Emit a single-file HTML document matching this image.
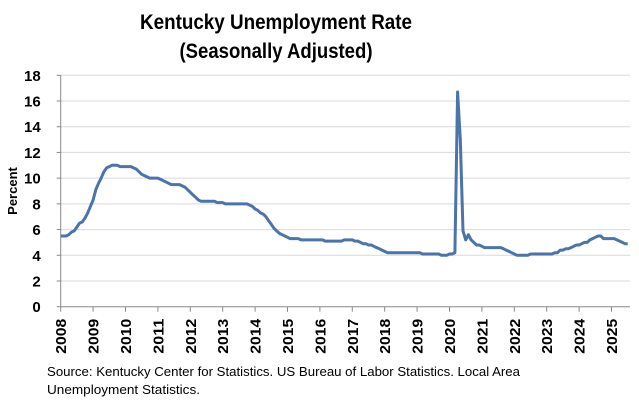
<!DOCTYPE html>
<html><head><meta charset="utf-8"><style>
body{margin:0;background:#fff;}
svg{display:block;font-family:"Liberation Sans",sans-serif;}
</style></head><body>
<svg id="chart" width="639" height="401">
<text x="276" y="29" text-anchor="middle" font-size="21" font-weight="bold" textLength="272" lengthAdjust="spacingAndGlyphs">Kentucky Unemployment Rate</text>
<text x="276" y="58" text-anchor="middle" font-size="21" font-weight="bold" textLength="193" lengthAdjust="spacingAndGlyphs">(Seasonally Adjusted)</text>
<text transform="translate(17,191) rotate(-90)" text-anchor="middle" font-size="13" font-weight="bold">Percent</text>
<g id="grid"></g><g id="yt"></g><g id="xt"></g><g id="line"></g>
<text x="47" y="376" font-size="12.5" textLength="473" lengthAdjust="spacingAndGlyphs">Source: Kentucky Center for Statistics. US Bureau of Labor Statistics. Local Area</text>
<text x="47" y="394" font-size="12.5" textLength="153" lengthAdjust="spacingAndGlyphs">Unemployment Statistics.</text>
</svg>
<script>
const yTicks=[0,2,4,6,8,10,12,14,16,18];
const xYears=[2008,2009,2010,2011,2012,2013,2014,2015,2016,2017,2018,2019,2020,2021,2022,2023,2024,2025];
const rate=[
5.5,5.5,5.5,5.6,5.8,5.9,6.2,6.5,6.6,6.9,7.3,7.8,
8.3,9.1,9.6,10.0,10.5,10.8,10.9,11.0,11.0,11.0,10.9,10.9,
10.9,10.9,10.9,10.8,10.7,10.5,10.3,10.2,10.1,10.0,10.0,10.0,
10.0,9.9,9.8,9.7,9.6,9.5,9.5,9.5,9.5,9.4,9.3,9.1,
8.9,8.7,8.5,8.3,8.2,8.2,8.2,8.2,8.2,8.2,8.1,8.1,
8.1,8.0,8.0,8.0,8.0,8.0,8.0,8.0,8.0,8.0,7.9,7.8,
7.6,7.5,7.3,7.2,7.0,6.7,6.4,6.1,5.9,5.7,5.6,5.5,
5.4,5.3,5.3,5.3,5.3,5.2,5.2,5.2,5.2,5.2,5.2,5.2,
5.2,5.2,5.1,5.1,5.1,5.1,5.1,5.1,5.1,5.2,5.2,5.2,
5.2,5.1,5.1,5.0,4.9,4.9,4.8,4.8,4.7,4.6,4.5,4.4,
4.3,4.2,4.2,4.2,4.2,4.2,4.2,4.2,4.2,4.2,4.2,4.2,
4.2,4.2,4.1,4.1,4.1,4.1,4.1,4.1,4.1,4.0,4.0,4.0,
4.1,4.1,4.2,16.7,13.0,5.9,5.2,5.6,5.2,5.0,4.8,4.8,
4.7,4.6,4.6,4.6,4.6,4.6,4.6,4.6,4.5,4.4,4.3,4.2,
4.1,4.0,4.0,4.0,4.0,4.0,4.1,4.1,4.1,4.1,4.1,4.1,
4.1,4.1,4.1,4.2,4.2,4.4,4.4,4.5,4.5,4.6,4.7,4.8,
4.8,4.9,5.0,5.0,5.2,5.3,5.4,5.5,5.5,5.3,5.3,5.3,
5.3,5.3,5.2,5.1,5.0,4.9,4.9];
const NS="http://www.w3.org/2000/svg";
const X0=60.7,XW=32.4/12,Y0=306.7,YU=(306.7-75.3)/18,XR=630;
const xs=m=>X0+m*XW, ys=v=>Y0-v*YU;
function mk(t,a,p){const e=document.createElementNS(NS,t);for(const k in a)e.setAttribute(k,a[k]);document.getElementById(p).appendChild(e);return e;}
yTicks.forEach(v=>{
 if(v>0){const g=mk('line',{x1:X0,x2:XR,y1:ys(v),y2:ys(v),stroke:'#d9d9d9','stroke-width':1},'grid');
 
 }
 const tk=mk('line',{x1:X0-4,x2:X0,y1:ys(v),y2:ys(v),stroke:'#888'},'yt');
 
 
 const t=mk('text',{x:X0-20,y:ys(v)+5.5,'text-anchor':'end','font-size':15,'font-weight':'bold'},'yt');
 t.textContent=v;
 
 
});
const ax=mk('line',{x1:X0,x2:X0,y1:Y0,y2:ys(18),stroke:'#888'},'yt');


const bx=mk('line',{x1:X0,x2:XR,y1:Y0,y2:Y0,stroke:'#888'},'xt');


xYears.forEach((y,i)=>{
 const x=xs(i*12);
 const tk=mk('line',{x1:x,x2:x,y1:Y0,y2:Y0+5,stroke:'#888'},'xt');
 
 
 const t=mk('text',{transform:`translate(${x+5.5},${Y0+47}) rotate(-90)`,'text-anchor':'start','font-size':15,'font-weight':'bold',textLength:35,lengthAdjust:'spacingAndGlyphs'},'xt');
 t.textContent=y;
 
 
});
const pts=rate.map((v,i)=>xs(i).toFixed(1)+','+ys(v).toFixed(1)).join(' ');
const pl=mk('polyline',{points:pts,fill:'none',stroke:'#4a74aa','stroke-width':3,'stroke-linejoin':'round'},'line');


</script>
</body></html>
